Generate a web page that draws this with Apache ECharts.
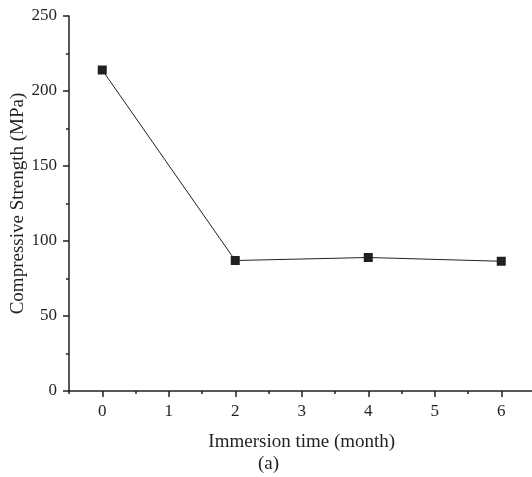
<!DOCTYPE html>
<html>
<head>
<meta charset="utf-8">
<script src="https://cdn.jsdelivr.net/npm/echarts@6/dist/echarts.min.js"></script>
<style>
html,body{margin:0;padding:0;background:#fff;}
#chart{width:532px;height:477px;}
</style>
</head>
<body>
<div id="chart"></div>
<script>
// Data
const months = [0, 2, 4, 6];
const strength = [214, 87, 89, 86.5];
// Tick labels / positions
const xMajorTicks = [0, 1, 2, 3, 4, 5, 6];
const xMinorTicks = [-0.5, 0.5, 1.5, 2.5, 3.5, 4.5, 5.5, 6.5];
const yTickLabels = [0, 50, 100, 150, 200, 250];

const ink = '#231f20';
const font = '"Liberation Serif", "Times New Roman", serif';

const chart = echarts.init(document.getElementById('chart'), null, {renderer: 'canvas'});
chart.setOption({
  animation: false,
  backgroundColor: '#fff',
  grid: {left: 69, top: 16, width: 465.5, height: 375, containLabel: false, outerBoundsMode: 'none'},
  xAxis: [
    {
      type: 'value', min: -0.5, max: 6.5,
      name: 'Immersion time (month)', nameLocation: 'middle', nameGap: 42, nameMoveOverlap: false,
      nameTextStyle: {fontFamily: font, fontSize: 19, color: ink},
      axisLine: {show: true, onZero: false, lineStyle: {color: ink, width: 1.5}},
      axisTick: {show: true, customValues: xMajorTicks, length: 6, lineStyle: {color: ink, width: 1.5}},
      axisLabel: {show: true, customValues: xMajorTicks, margin: 12, fontFamily: font, fontSize: 17, color: ink},
      splitLine: {show: false}
    },
    {
      type: 'value', min: -0.5, max: 6.5, gridIndex: 0, position: 'bottom',
      axisLine: {show: false, onZero: false},
      axisTick: {show: true, customValues: xMinorTicks, length: 3, lineStyle: {color: ink, width: 1.5}},
      axisLabel: {show: false},
      splitLine: {show: false}
    }
  ],
  yAxis: {
    type: 'value', min: 0, max: 250, interval: 50,
    name: 'Compressive Strength (MPa)', nameLocation: 'middle', nameGap: 41, nameMoveOverlap: false,
    nameTextStyle: {fontFamily: font, fontSize: 19, color: ink},
    axisLine: {show: true, onZero: false, lineStyle: {color: ink, width: 1.5}},
    axisTick: {show: true, length: 6, lineStyle: {color: ink, width: 1.5}},
    minorTick: {show: true, splitNumber: 2, length: 3, lineStyle: {color: ink, width: 1.5}},
    axisLabel: {margin: 12, fontFamily: font, fontSize: 17, color: ink,
      formatter: function (v) { return yTickLabels.indexOf(v) >= 0 ? String(v) : ''; }},
    splitLine: {show: false}
  },
  graphic: [{
    type: 'text', left: 258, top: 455,
    style: {text: '(a)', fontFamily: font, fontSize: 19, fill: ink}
  }],
  series: [{
    type: 'line',
    xAxisIndex: 0,
    data: months.map((m, i) => [m, strength[i]]),
    symbol: 'rect', symbolSize: 9,
    lineStyle: {color: ink, width: 1},
    itemStyle: {color: ink},
    z: 3
  }]
});
</script>
</body>
</html>
